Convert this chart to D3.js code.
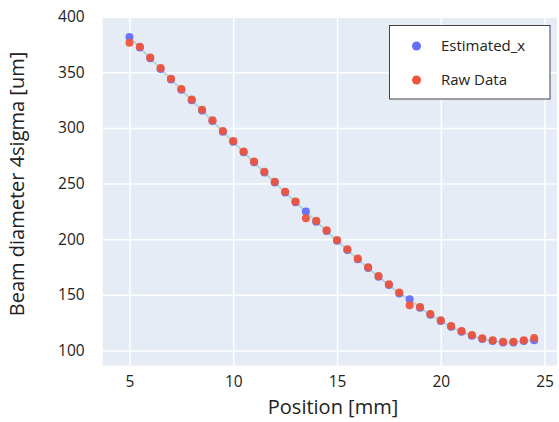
<!DOCTYPE html>
<html><head><meta charset="utf-8">
<script src="https://cdn.jsdelivr.net/npm/d3@7"></script>
<style>body{margin:0;background:#fff}svg{display:block}</style>
</head><body>
<svg id="c" width="559" height="422"></svg>
<script>
const positions = [5,5.5,6,6.5,7,7.5,8,8.5,9,9.5,10,10.5,11,11.5,12,12.5,13,13.5,14,14.5,15,15.5,16,16.5,17,17.5,18,18.5,19,19.5,20,20.5,21,21.5,22,22.5,23,23.5,24,24.5];
const rawData = [376.6,373,363.4,353.8,344.2,335,325.6,316.3,307,297.3,288.2,278.8,269.8,260.6,251.6,242.7,233.9,218.9,216.5,208.1,199.4,191,182.6,174.8,167,159.5,152,140.6,139.1,132.8,127.2,122,117.5,113.9,111,109.2,107.9,107.9,109.2,111.2];
const estimatedX = [381.7,372.3,362.7,353.1,343.5,334.3,324.9,315.6,306.3,296.6,287.5,278.1,269.1,259.9,250.9,242,233.2,224.9,215.8,207.4,198.7,190.3,181.9,174.1,166.3,158.8,151.3,146,138.4,132.1,126.5,121.3,116.8,113.2,110.3,108.5,107.2,107.2,108.5,109.2];
const xTicks = [5,10,15,20,25];
const yTicks = [100,150,200,250,300,350,400];
const seriesNames = ["Estimated_x","Raw Data"];
const colors = ["#636efa","#ef553b"];

const font = "'Open Sans', sans-serif";
const svg = d3.select("#c");
const L = 102.7, R = 557, T = 16.7, B = 365.6;
const x = d3.scaleLinear().domain([3.71, 25.6]).range([L, R]);
const y = d3.scaleLinear().domain([86.4, 400]).range([B, T]);

svg.append("rect").attr("x", L).attr("y", T).attr("width", R - L).attr("height", B - T).attr("fill", "#e5ecf6");

const gx = svg.append("g").attr("transform", `translate(0,${B})`)
  .call(d3.axisBottom(x).tickValues(xTicks).tickSize(-(B - T)).tickPadding(10).tickFormat(d3.format("d")));
const gy = svg.append("g").attr("transform", `translate(${L},0)`)
  .call(d3.axisLeft(y).tickValues(yTicks).tickSize(-(R - L)).tickPadding(18).tickFormat(d3.format("d")));
[gx, gy].forEach(g => {
  g.select(".domain").remove();
  g.selectAll(".tick line").attr("stroke", "#fff").attr("stroke-width", 1.5);
  g.selectAll(".tick text").attr("fill", "#222").style("font-family", font).style("font-size", "15.5px");
});
gx.selectAll(".tick text").attr("dy", "0.71em");

// fit line
svg.append("path").datum(positions.map((p, i) => [p, estimatedX[i]]))
  .attr("d", d3.line().x(d => x(d[0])).y(d => y(d[1])))
  .attr("fill", "none").attr("stroke", "#b5d6d6").attr("stroke-width", 2);

[estimatedX, rawData].forEach((vals, k) => {
  svg.append("g").selectAll("circle").data(vals).join("circle")
    .attr("cx", (d, i) => x(positions[i])).attr("cy", d => y(d))
    .attr("r", 4).attr("fill", colors[k]).attr("opacity", 0.95);
});

svg.append("text").attr("x", 333).attr("y", 414).attr("text-anchor", "middle")
  .style("font-family", font).style("font-size", "20px").attr("fill", "#222").text("Position [mm]");
svg.append("text").attr("transform", `translate(24,184) rotate(-90)`).attr("text-anchor", "middle")
  .style("font-family", font).style("font-size", "20px").attr("fill", "#222").text("Beam diameter 4sigma [um]");

// legend
const lg = svg.append("g");
lg.append("rect").attr("x", 389.5).attr("y", 25.5).attr("width", 160.5).attr("height", 73.5)
  .attr("fill", "#fff").attr("stroke", "#444").attr("stroke-width", 1);
seriesNames.forEach((n, i) => {
  const cy = 46 + i * 34;
  lg.append("circle").attr("cx", 416.5).attr("cy", cy).attr("r", 4.5).attr("fill", colors[i]);
  lg.append("text").attr("x", 441).attr("y", cy).attr("dy", "0.35em")
    .style("font-family", font).style("font-size", "15px").attr("fill", "#222").text(n);
});
</script>
</body></html>
